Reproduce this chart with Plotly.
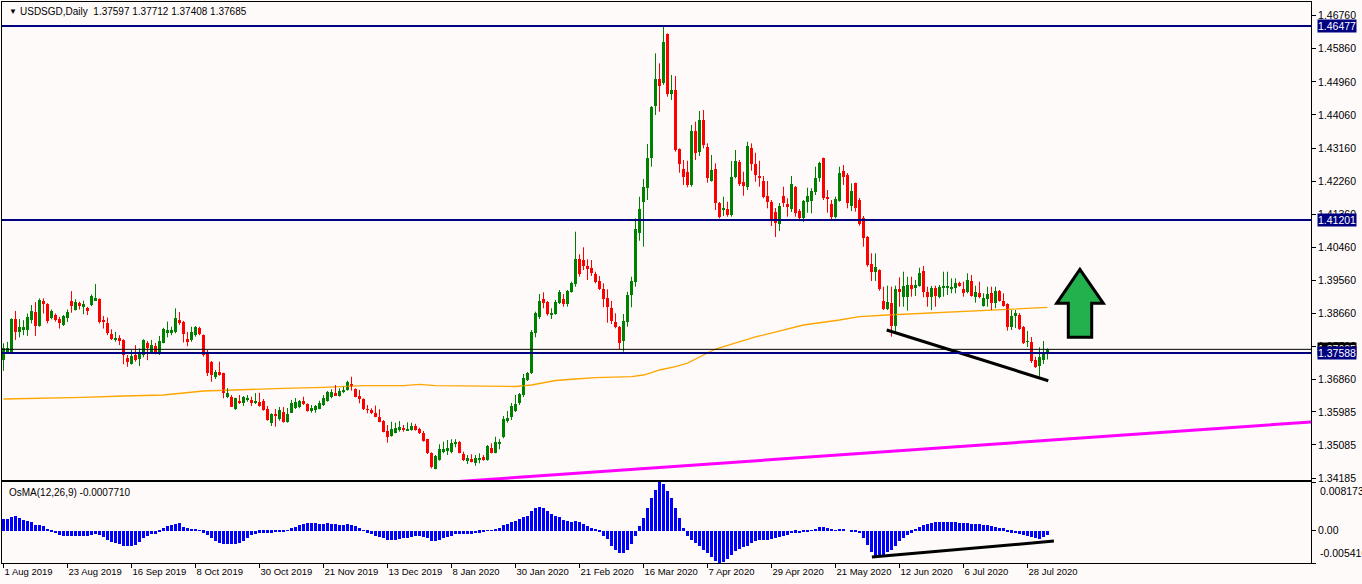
import plotly.graph_objects as go

# ---------------- data ----------------
tick_labels = ["1 Aug 2019", "23 Aug 2019", "16 Sep 2019", "8 Oct 2019", "30 Oct 2019",
               "21 Nov 2019", "13 Dec 2019", "8 Jan 2020", "30 Jan 2020", "21 Feb 2020",
               "16 Mar 2020", "7 Apr 2020", "29 Apr 2020", "21 May 2020", "12 Jun 2020",
               "6 Jul 2020", "28 Jul 2020"]
tick_bars = [0, 16, 32, 48, 64, 80, 96, 112, 128, 144, 160, 176, 192, 208, 224, 240, 256]

price_ticks = [1.46760, 1.45860, 1.44960, 1.44060, 1.43160, 1.42260, 1.41360, 1.40460,
               1.39560, 1.38660, 1.37760, 1.36860, 1.35985, 1.35085, 1.34185]

open_ = [
1.3739,1.3762,1.3759,1.3850,1.3816,1.3821,1.3821,1.3848,1.3870,1.3832,
1.3900,1.3892,1.3853,1.3862,1.3850,1.3835,1.3853,1.3900,1.3875,1.3895,
1.3886,1.3881,1.3889,1.3901,1.3905,1.3846,1.3839,1.3810,1.3794,1.3799,
1.3794,1.3746,1.3730,1.3753,1.3741,1.3753,1.3787,1.3759,1.3777,1.3762,
1.3787,1.3812,1.3812,1.3816,1.3848,1.3844,1.3798,1.3794,1.3807,1.3827,
1.3807,1.37594,1.37349,1.36941,1.37077,1.37033,1.36397,1.36397,1.36054,1.36288,
1.36217,1.36307,1.36307,1.36233,1.36261,1.36280,1.36062,1.35690,1.35926,1.35782,
1.35989,1.35717,1.35962,1.36081,1.36108,1.36288,1.36198,1.36016,1.36035,1.36071,
1.36171,1.36288,1.36380,1.36505,1.36424,1.36516,1.36579,1.36742,1.36606,1.36424,
1.36334,1.36062,1.36035,1.35962,1.35853,1.35736,1.35464,1.35328,1.35418,1.35491,
1.35554,1.35472,1.35491,1.35600,1.35518,1.35418,1.35238,1.34857,1.34430,1.34675,
1.34884,1.34920,1.34901,1.35129,1.35173,1.34838,1.34656,1.34702,1.34602,1.34694,
1.34765,1.34675,1.34993,1.34873,1.35129,1.35292,1.35736,1.35851,1.36016,1.36225,
1.36443,1.36851,1.37033,1.38121,1.38573,1.39054,1.38973,1.38619,1.38646,1.38954,
1.39054,1.38918,1.39253,1.39454,1.40142,1.40115,1.39952,1.39889,1.39734,1.39544,
1.39326,1.39073,1.38801,1.38437,1.38301,1.37920,1.38437,1.39163,1.39525,1.40841,
1.41701,1.42082,1.42896,1.44312,1.45038,1.44921,1.46262,1.44630,1.44739,1.43134,
1.42582,1.42517,1.42155,1.43624,1.43061,1.43923,1.43189,1.42264,1.42590,1.41674,
1.41475,1.41502,1.41339,1.42381,1.42789,1.42245,1.42109,1.43170,1.42726,1.42381,
1.42264,1.41856,1.41701,1.41421,1.41091,1.41856,1.41638,1.41502,1.42109,1.41448,
1.41257,1.41701,1.41720,1.41973,1.42337,1.42881,1.41837,1.41638,1.41293,1.41720,
1.42536,1.42427,1.41592,1.42201,1.41747,1.41249,1.40749,1.40006,1.39797,1.39843,
1.39000,1.38774,1.38954,1.38320,1.39326,1.39117,1.39117,1.39435,1.39362,1.39416,
1.39824,1.39253,1.39117,1.39345,1.39117,1.39362,1.39362,1.39345,1.39362,1.39481,
1.39326,1.39236,1.39544,1.39117,1.39209,1.38872,1.39054,1.39209,1.38937,1.39272,
1.39000,1.38918,1.38301,1.38592,1.38619,1.38301,1.37885,1.37893,1.37395,1.37232,
1.37395,1.37597]

high = [
1.3785,1.3789,1.3853,1.3873,1.3851,1.3848,1.3866,1.3889,1.3897,1.3907,
1.3907,1.3894,1.3877,1.3866,1.3857,1.3862,1.3877,1.3927,1.3905,1.3898,
1.3901,1.3884,1.3918,1.3946,1.3907,1.3859,1.3855,1.3823,1.3816,1.3807,
1.3796,1.3753,1.3767,1.3780,1.3771,1.3796,1.3791,1.3794,1.3786,1.3805,
1.3827,1.3844,1.3830,1.3880,1.3870,1.3846,1.3816,1.3830,1.3832,1.3830,
1.3809,1.37667,1.37368,1.37123,1.37349,1.37050,1.36634,1.36443,1.36369,1.36443,
1.36416,1.36443,1.36397,1.36497,1.36505,1.36334,1.36144,1.35945,1.36062,1.36117,
1.36117,1.36089,1.36307,1.36361,1.36307,1.36397,1.36217,1.36171,1.36171,1.36288,
1.36443,1.36551,1.36598,1.36715,1.36625,1.36669,1.36832,1.36941,1.36625,1.36579,
1.36353,1.36171,1.36081,1.36156,1.36054,1.35763,1.35627,1.35717,1.35690,1.35736,
1.35627,1.35701,1.35690,1.35659,1.35554,1.35464,1.35254,1.34884,1.34811,1.35102,
1.35173,1.35219,1.35241,1.35241,1.35192,1.34901,1.34811,1.34830,1.34811,1.34857,
1.34811,1.35083,1.35129,1.35309,1.35241,1.35872,1.36008,1.36225,1.36443,1.36497,
1.37014,1.37069,1.38211,1.38709,1.39190,1.39236,1.39000,1.38801,1.39027,1.39299,
1.39190,1.39299,1.39525,1.40885,1.40270,1.40461,1.40134,1.40115,1.39797,1.39680,
1.39481,1.39318,1.39000,1.38665,1.38320,1.38646,1.39253,1.39661,1.41249,1.41837,
1.42318,1.43270,1.44304,1.45737,1.45465,1.46500,1.46280,1.45147,1.45120,1.43150,
1.42835,1.42816,1.43787,1.43877,1.44168,1.44195,1.43289,1.42971,1.42745,1.41690,
1.41837,1.41701,1.42808,1.43107,1.42835,1.42517,1.43333,1.43289,1.43034,1.42816,
1.42400,1.42264,1.41747,1.41529,1.41665,1.42109,1.41793,1.42400,1.42128,1.41502,
1.41747,1.42082,1.42065,1.42653,1.42789,1.42900,1.42019,1.41747,1.41837,1.42653,
1.42699,1.42481,1.42201,1.42220,1.41801,1.41312,1.40768,1.40297,1.40297,1.39860,
1.39389,1.39416,1.39389,1.39416,1.39644,1.39797,1.39661,1.39661,1.39571,1.39906,
1.39952,1.39389,1.39408,1.39416,1.39435,1.39797,1.39797,1.39617,1.39617,1.39525,
1.39525,1.39753,1.39707,1.39416,1.39525,1.39209,1.39389,1.39389,1.39389,1.39299,
1.39209,1.38937,1.38755,1.38755,1.38674,1.38320,1.38184,1.38021,1.37485,1.37740,
1.37912,1.37712]

low = [
1.3710,1.3760,1.3757,1.3794,1.3801,1.3807,1.3805,1.3839,1.3805,1.3830,
1.3866,1.3839,1.3850,1.3844,1.3825,1.3832,1.3843,1.3868,1.3874,1.3877,
1.3864,1.3862,1.3886,1.3901,1.3839,1.3825,1.3807,1.3794,1.3789,1.3780,
1.3728,1.3721,1.3727,1.3735,1.3723,1.3747,1.3739,1.3758,1.3755,1.3753,
1.3785,1.3801,1.3807,1.3812,1.3835,1.3787,1.3777,1.3789,1.3803,1.3807,
1.3749,1.36960,1.36805,1.36878,1.36968,1.36353,1.36361,1.36117,1.36035,1.36198,
1.36144,1.36261,1.36144,1.36198,1.36125,1.36016,1.35744,1.35600,1.35581,1.35744,
1.35690,1.35690,1.35953,1.36062,1.36081,1.36171,1.35989,1.35962,1.35962,1.36054,
1.36144,1.36261,1.36353,1.36416,1.36397,1.36493,1.36560,1.36560,1.36380,1.36217,
1.36035,1.35945,1.35926,1.35837,1.35701,1.35428,1.35146,1.35309,1.35401,1.35445,
1.35445,1.35464,1.35472,1.35472,1.35382,1.35173,1.34838,1.34449,1.34422,1.34656,
1.34857,1.34811,1.34857,1.35020,1.34857,1.34648,1.34566,1.34612,1.34517,1.34585,
1.34656,1.34656,1.34857,1.34857,1.34966,1.35265,1.35690,1.35763,1.35981,1.36171,
1.36389,1.36824,1.37014,1.38012,1.38510,1.38801,1.38600,1.38510,1.38627,1.38918,
1.38845,1.38845,1.39226,1.39389,1.39661,1.39843,1.39571,1.39680,1.39481,1.39299,
1.38829,1.38410,1.38374,1.38257,1.37686,1.37621,1.38301,1.38829,1.39389,1.40640,
1.40477,1.41747,1.42653,1.44059,1.44149,1.44880,1.44557,1.44467,1.43061,1.42490,
1.42155,1.42093,1.42109,1.42835,1.42944,1.43153,1.42218,1.42245,1.41475,1.41249,
1.41312,1.41293,1.41293,1.42337,1.42128,1.41864,1.42019,1.42544,1.42245,1.42109,
1.41793,1.41521,1.41040,1.40741,1.40904,1.41557,1.41293,1.41421,1.41293,1.41175,
1.41149,1.41401,1.41385,1.41883,1.42245,1.41747,1.41401,1.41203,1.41249,1.41701,
1.42155,1.41521,1.41448,1.41429,1.41048,1.40477,1.39933,1.39544,1.39544,1.39280,
1.38755,1.38755,1.38029,1.38165,1.38845,1.38845,1.38736,1.39117,1.39136,1.39389,
1.39100,1.38845,1.38755,1.38845,1.39073,1.39117,1.39163,1.39209,1.39209,1.39389,
1.39117,1.39209,1.39117,1.38954,1.39073,1.38845,1.38845,1.38755,1.38801,1.38981,
1.38845,1.38192,1.38211,1.38266,1.38211,1.37830,1.37749,1.37313,1.37178,1.36941,
1.37286,1.37408]

close = [
1.3771,1.3771,1.3850,1.3816,1.3830,1.3830,1.3857,1.3873,1.3832,1.3903,
1.3892,1.3846,1.3873,1.3848,1.3841,1.3859,1.3870,1.3886,1.3896,1.3886,
1.3891,1.3873,1.3914,1.3909,1.3844,1.3844,1.3814,1.3798,1.3798,1.3792,
1.3753,1.3735,1.3750,1.3739,1.3758,1.3794,1.3771,1.3780,1.3758,1.3791,
1.3824,1.3821,1.3821,1.3853,1.3841,1.3809,1.3789,1.3816,1.3830,1.3810,
1.3753,1.37033,1.36987,1.37077,1.36987,1.36493,1.36493,1.36125,1.36353,1.36217,
1.36397,1.36353,1.36233,1.36261,1.36144,1.36035,1.35763,1.35926,1.35872,1.36035,
1.35717,1.35926,1.36217,1.36261,1.36288,1.36198,1.36016,1.36098,1.36144,1.36233,
1.36353,1.36532,1.36532,1.36424,1.36551,1.36579,1.36805,1.36688,1.36397,1.36334,
1.36054,1.36035,1.35962,1.35853,1.35717,1.35445,1.35309,1.35518,1.35554,1.35581,
1.35491,1.35510,1.35600,1.35491,1.35401,1.35200,1.34857,1.34476,1.34784,1.34966,
1.34982,1.35010,1.35146,1.35173,1.34873,1.34675,1.34738,1.34629,1.34738,1.34738,
1.34675,1.35056,1.34873,1.35173,1.35173,1.35782,1.35826,1.36144,1.36198,1.36470,
1.36905,1.37041,1.38165,1.38665,1.39000,1.38954,1.38646,1.38682,1.38981,1.39253,
1.38918,1.39280,1.39481,1.40142,1.39735,1.39952,1.39862,1.39770,1.39525,1.39318,
1.39046,1.38829,1.38464,1.38301,1.37849,1.38456,1.39163,1.39544,1.40958,1.41502,
1.42109,1.42896,1.44268,1.45038,1.44856,1.46053,1.44630,1.44739,1.43107,1.42726,
1.42381,1.42155,1.43624,1.43034,1.43923,1.43243,1.42354,1.42563,1.41674,1.41293,
1.41538,1.41339,1.42381,1.42808,1.42182,1.42136,1.43216,1.42726,1.42427,1.42354,
1.41837,1.41701,1.41175,1.41113,1.41584,1.41674,1.41565,1.42182,1.41385,1.41257,
1.41720,1.41856,1.41992,1.42346,1.42745,1.41810,1.41774,1.41293,1.41774,1.42481,
1.42381,1.41657,1.41992,1.41521,1.41094,1.40722,1.39979,1.39797,1.39916,1.39326,
1.38782,1.38965,1.38320,1.39326,1.39253,1.39416,1.39435,1.39326,1.39435,1.39770,
1.39253,1.39117,1.39362,1.39144,1.39389,1.39389,1.39389,1.39389,1.39481,1.39408,
1.39226,1.39571,1.39136,1.39253,1.39117,1.39073,1.39190,1.38937,1.39280,1.39000,
1.38872,1.38301,1.38600,1.38674,1.38238,1.37866,1.37912,1.37376,1.37213,1.37468,
1.37594,1.37685]

osma = [
0.00196,0.00196,0.0023,0.0024,0.0021,0.0018,0.0017,0.0014,0.0010,0.0010,
0.0008,0.0002,-0.0002,-0.0004,-0.0007,-0.0009,-0.0009,-0.0008,-0.0008,-0.0008,
-0.0008,-0.0008,-0.0007,-0.0006,-0.0007,-0.0011,-0.0016,-0.0019,-0.0021,-0.0023,
-0.0025,-0.0026,-0.0026,-0.0024,-0.0019,-0.0013,-0.0009,-0.0006,-0.0005,-0.0002,
0.0005,0.0008,0.0009,0.0011,0.0013,0.0007,0.0004,0.0003,0.0002,0.00005,
-0.0003,-0.0007,-0.0013,-0.0018,-0.0020,-0.0022,-0.0022,-0.0022,-0.0022,-0.0020,
-0.0018,-0.0013,-0.0007,-0.0005,-0.0003,-0.0003,-0.0003,-0.0003,-0.0002,-0.0001,
-0.0002,0.0001,0.0004,0.0007,0.0010,0.0012,0.0013,0.0013,0.0013,0.0012,
0.0012,0.0013,0.0012,0.0011,0.0010,0.0010,0.0011,0.0010,0.0008,0.0005,
0.0001,-0.0003,-0.0006,-0.0008,-0.0010,-0.0013,-0.0016,-0.0016,-0.0015,-0.0014,
-0.0013,-0.0012,-0.0011,-0.0009,-0.0009,-0.0010,-0.0013,-0.0017,-0.0017,-0.0015,
-0.0013,-0.0011,-0.0008,-0.0006,-0.0006,-0.0006,-0.0006,-0.0005,-0.0004,-0.0003,
-0.0002,0.00005,0.0001,0.0003,0.0004,0.0009,0.0011,0.0014,0.0016,0.0019,
0.0023,0.0025,0.0033,0.0038,0.0040,0.0038,0.0033,0.0028,0.0025,0.0023,
0.0018,0.0016,0.0014,0.0017,0.0014,0.0011,0.0008,0.0005,0.0002,-0.0002,
-0.0008,-0.0014,-0.0025,-0.0032,-0.0037,-0.0038,-0.0033,-0.0022,-0.0008,0.0008,
0.0022,0.0038,0.0055,0.0068,0.0081735,0.0078,0.0066,0.0055,0.0038,0.0022,
0.0005,-0.0008,-0.0015,-0.0020,-0.0025,-0.0033,-0.0038,-0.0044,-0.0050,-0.00541,
-0.0052,-0.0047,-0.0040,-0.0034,-0.0030,-0.0028,-0.0025,-0.0020,-0.0018,-0.0016,
-0.0016,-0.0015,-0.0014,-0.0012,-0.0010,-0.0008,-0.0007,-0.0004,-0.0003,-0.0004,
-0.0002,-0.0001,0.0001,0.0003,0.0006,0.0007,0.0004,0.0002,0.0001,0.0003,
0.0002,0.0000,-0.0001,-0.0002,-0.0004,-0.0012,-0.0024,-0.0036,-0.0044,-0.0042,
-0.0040,-0.0036,-0.0032,-0.0025,-0.0018,-0.0012,-0.0007,-0.0003,0.0002,0.0006,
0.0010,0.0012,0.0013,0.0014,0.0014,0.0014,0.0014,0.0014,0.0014,0.0013,
0.0013,0.0013,0.0012,0.0012,0.0011,0.0010,0.0009,0.0008,0.0006,0.0005,
0.0004,-0.0001,-0.0003,-0.0004,-0.0005,-0.0007,-0.0009,-0.0011,-0.0013,-0.0014,
-0.0011,-0.000771]

ma_bars = [0, 10, 20, 30, 40, 50, 60, 70, 80, 90, 100, 104, 108, 116, 128, 132, 135, 138,
           143, 148, 157, 160, 162, 164, 168, 171, 174, 178, 188, 200, 209, 214, 221, 231,
           237, 245, 251, 261]
ma_vals = [1.36334, 1.36348, 1.36381, 1.36416, 1.36443, 1.36552, 1.36598, 1.36625, 1.36653,
           1.36696, 1.36696, 1.36734, 1.36696, 1.36680, 1.36674, 1.36715, 1.36769, 1.36837,
           1.36878, 1.36913, 1.36941, 1.36987, 1.37050, 1.37123, 1.37213, 1.37313, 1.37477,
           1.37694, 1.38021, 1.38347, 1.38483, 1.38573, 1.38619, 1.38665, 1.38709, 1.38728,
           1.38774, 1.38828]

levels = [1.46477, 1.41201, 1.37588]
bid = 1.37685
magenta_bars = [100, 326.9]
magenta_vals = [1.33986, 1.35709]
trend_bars = [220.8, 261.2]
trend_vals = [1.38211, 1.36832]
osma_trend_bars = [217.1, 262.6]
osma_trend_vals = [-0.00441, -0.00173]
arrow_bars = [269.1, 274.95, 272.05, 272.05, 266.2, 266.2, 263.3]
arrow_vals = [1.39862, 1.38937, 1.38937, 1.38012, 1.38012, 1.38937, 1.38937]

# ---------------- figure ----------------
W, H = 1362, 584
ML, MR, MT, MB = 2, 51, 2, 21
plot_h = H - MT - MB
plot_w = W - ML - MR
bottom_px = H - MB
main_dom = [(bottom_px - 480) / plot_h, 1]
osma_dom = [0, (bottom_px - 482) / plot_h]
xr = [-0.375, 326.875]

UP, DN = '#008000', '#FF0000'
BG = '#FFFAFA'
FONT = 'Liberation Sans'

n = len(close)
xs = list(range(n))
min_body = 0.00024
bases, heights, colors = [], [], []
for o, c in zip(open_, close):
    h = abs(c - o)
    hh = max(h, min_body)
    bases.append(min(o, c) - (hh - h) / 2)
    heights.append(hh)
    colors.append(UP if c >= o else DN)

wx_up, wy_up, wx_dn, wy_dn = [], [], [], []
for i in range(n):
    if close[i] >= open_[i]:
        wx_up += [i, i, None]; wy_up += [low[i], high[i], None]
    else:
        wx_dn += [i, i, None]; wy_dn += [low[i], high[i], None]

fig = go.Figure()
fig.add_trace(go.Scatter(x=ma_bars, y=ma_vals, mode='lines', line=dict(color='#FFA500', width=1.3),
                         xaxis='x', yaxis='y', hoverinfo='skip'))
fig.add_trace(go.Scatter(x=magenta_bars, y=magenta_vals, mode='lines', line=dict(color='#FF00FF', width=3),
                         xaxis='x', yaxis='y', hoverinfo='skip'))
fig.add_trace(go.Scatter(x=wx_up, y=wy_up, mode='lines', line=dict(color=UP, width=1),
                         xaxis='x', yaxis='y', hoverinfo='skip'))
fig.add_trace(go.Scatter(x=wx_dn, y=wy_dn, mode='lines', line=dict(color=DN, width=1),
                         xaxis='x', yaxis='y', hoverinfo='skip'))
fig.add_trace(go.Bar(x=xs, y=heights, base=bases, width=0.75,
                     marker=dict(color=colors, line=dict(width=0)), xaxis='x', yaxis='y'))
fig.add_trace(go.Scatter(x=trend_bars, y=trend_vals, mode='lines', line=dict(color='black', width=3),
                         xaxis='x', yaxis='y', hoverinfo='skip'))
fig.add_trace(go.Bar(x=xs, y=osma, width=0.75, marker=dict(color='#0000FF', line=dict(width=0)),
                     xaxis='x2', yaxis='y2'))
fig.add_trace(go.Scatter(x=osma_trend_bars, y=osma_trend_vals, mode='lines',
                         line=dict(color='black', width=3), xaxis='x2', yaxis='y2', hoverinfo='skip'))

shapes = []
for lv in levels:
    shapes.append(dict(type='line', xref='x domain', x0=0, x1=1, yref='y', y0=lv, y1=lv,
                       line=dict(color='#000080', width=2), layer='above'))
shapes.append(dict(type='line', xref='x domain', x0=0, x1=1, yref='y', y0=bid, y1=bid,
                   line=dict(color='black', width=1), layer='above'))
path = 'M ' + ' L '.join(f'{a},{b}' for a, b in zip(arrow_bars, arrow_vals)) + ' Z'
shapes.append(dict(type='path', xref='x', yref='y', path=path, fillcolor='#22B14C',
                   line=dict(color='black', width=3), layer='above'))

annotations = []
annotations.append(dict(xref='paper', yref='paper', x=5 / plot_w, y=1 - 10 / plot_h,
                        xanchor='left', yanchor='middle', text='▼', showarrow=False,
                        font=dict(family=FONT, size=8, color='black')))
annotations.append(dict(xref='paper', yref='paper', x=16 / plot_w, y=1 - 10 / plot_h,
                        xanchor='left', yanchor='middle',
                        text='USDSGD,Daily  1.37597 1.37712 1.37408 1.37685', showarrow=False,
                        font=dict(family=FONT, size=10, color='black')))
annotations.append(dict(xref='paper', yref='y2 domain', x=5 / plot_w, y=1, yshift=-3,
                        xanchor='left', yanchor='top', text='OsMA(12,26,9) -0.0007710',
                        showarrow=False, font=dict(family=FONT, size=10, color='black')))
# price tags on right axis
annotations.append(dict(xref='paper', yref='y', x=1, y=bid, xanchor='left', yanchor='middle',
                        xshift=6, text='1.37685', showarrow=False, bgcolor='black',
                        borderpad=0, font=dict(family=FONT, size=10.5, color='white')))
for lv in levels:
    annotations.append(dict(xref='paper', yref='y', x=1, y=lv, xanchor='left', yanchor='middle',
                            xshift=6, text=f'{lv:.5f}', showarrow=False, bgcolor='#000080',
                            borderpad=0, font=dict(family=FONT, size=10.5, color='white')))
annotations.append(dict(xref='paper', yref='y2 domain', x=1, y=1, yshift=-1, xshift=7,
                        xanchor='left', yanchor='top', text='0.0081735', showarrow=False,
                        font=dict(family=FONT, size=10.5, color='black')))
annotations.append(dict(xref='paper', yref='y2 domain', x=1, y=0, yshift=2, xshift=7,
                        xanchor='left', yanchor='bottom', text='-0.005410', showarrow=False,
                        font=dict(family=FONT, size=10.5, color='black')))

axis_common = dict(showgrid=False, zeroline=False, showline=True, linecolor='black',
                   linewidth=1, mirror=True, automargin=False)

fig.update_layout(
    width=W, height=H, margin=dict(l=ML, r=MR, t=MT, b=MB, autoexpand=False),
    paper_bgcolor=BG, plot_bgcolor=BG, showlegend=False, bargap=0,
    shapes=shapes, annotations=annotations,
    xaxis=dict(domain=[0, 1], range=xr, anchor='y', showticklabels=False, ticks='',
               **axis_common),
    yaxis=dict(domain=main_dom, range=[1.34131, 1.47133], anchor='x', side='right',
               tickvals=price_ticks, ticktext=[f'{v:.5f}' for v in price_ticks],
               ticks='outside', ticklen=4, tickcolor='black',
               tickfont=dict(family=FONT, size=10.5, color='black'), **axis_common),
    xaxis2=dict(domain=[0, 1], range=xr, anchor='y2', tickvals=tick_bars, ticktext=tick_labels,
                ticks='outside', ticklen=4, tickcolor='black', ticklabelposition='outside right',
                tickangle=0,
                tickfont=dict(family=FONT, size=9.5, color='black'), **axis_common),
    yaxis2=dict(domain=osma_dom, range=[-0.00541, 0.0081735], anchor='x2', side='right',
                tickvals=[0.0081735, 0, -0.00541], ticktext=['', '0.00', ''],
                ticks='outside', ticklen=4, tickcolor='black',
                tickfont=dict(family=FONT, size=10.5, color='black'), **axis_common),
)

fig.write_html('out.html', config={'displayModeBar': False},
               post_script="document.body.style.margin='0px';"
                           "document.body.style.overflow='hidden';")
